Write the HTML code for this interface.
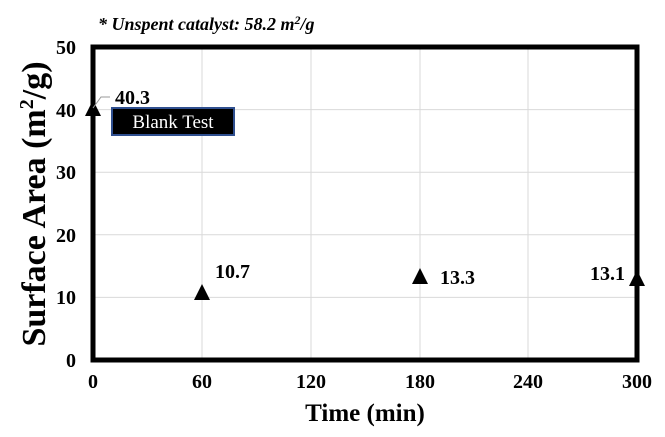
<!DOCTYPE html>
<html><head><style>body{margin:0;background:#fff}</style></head><body>
<svg width="665" height="432" xmlns="http://www.w3.org/2000/svg" font-family="Liberation Serif, serif" font-weight="bold">
<rect width="665" height="432" fill="#fff"/>
<g stroke="#d9d9d9" stroke-width="1">
<line x1="202" y1="47" x2="202" y2="360"/><line x1="311" y1="47" x2="311" y2="360"/><line x1="420" y1="47" x2="420" y2="360"/><line x1="528" y1="47" x2="528" y2="360"/>
<line x1="93" y1="297.4" x2="638" y2="297.4"/><line x1="93" y1="234.8" x2="638" y2="234.8"/><line x1="93" y1="172.2" x2="638" y2="172.2"/><line x1="93" y1="109.6" x2="638" y2="109.6"/>
</g>
<rect x="93" y="47" width="544" height="313" fill="none" stroke="#000" stroke-width="5"/>
<g font-size="20" text-anchor="end">
<text x="76" y="367">0</text><text x="76" y="304">10</text><text x="76" y="242">20</text><text x="76" y="179">30</text><text x="76" y="117">40</text><text x="76" y="54">50</text>
</g>
<g font-size="20" text-anchor="middle">
<text x="93" y="388">0</text><text x="202" y="388">60</text><text x="311" y="388">120</text><text x="420" y="388">180</text><text x="528" y="388">240</text><text x="637" y="388">300</text>
</g>
<text x="365" y="421" font-size="25" text-anchor="middle">Time (min)</text>
<text transform="translate(45,204) rotate(-90)" font-size="34" text-anchor="middle">Surface Area (m<tspan font-size="20" dy="-12">2</tspan><tspan dy="12">/g)</tspan></text>
<text x="98" y="30" font-size="18" font-style="italic">* Unspent catalyst: 58.2 m<tspan font-size="12" dy="-6">2</tspan><tspan dy="6">/g</tspan></text>
<g fill="#000">
<polygon points="93,100 85,116 101,116"/>
<polygon points="202,284 194,300 210,300"/>
<polygon points="420,268 412,284 428,284"/>
<polygon points="637,270 629,286 645,286"/>
</g>
<polyline points="93,108 101,97 110,97" fill="none" stroke="#999" stroke-width="1"/>
<g font-size="20">
<text x="115" y="104">40.3</text><text x="215" y="278">10.7</text><text x="440" y="284">13.3</text><text x="625" y="280" text-anchor="end">13.1</text>
</g>
<rect x="112" y="108" width="122" height="27" fill="#000" stroke="#2f4f8f" stroke-width="2"/>
<text x="173" y="128" font-size="19" font-weight="normal" fill="#fff" text-anchor="middle">Blank Test</text>
</svg>
</body></html>
